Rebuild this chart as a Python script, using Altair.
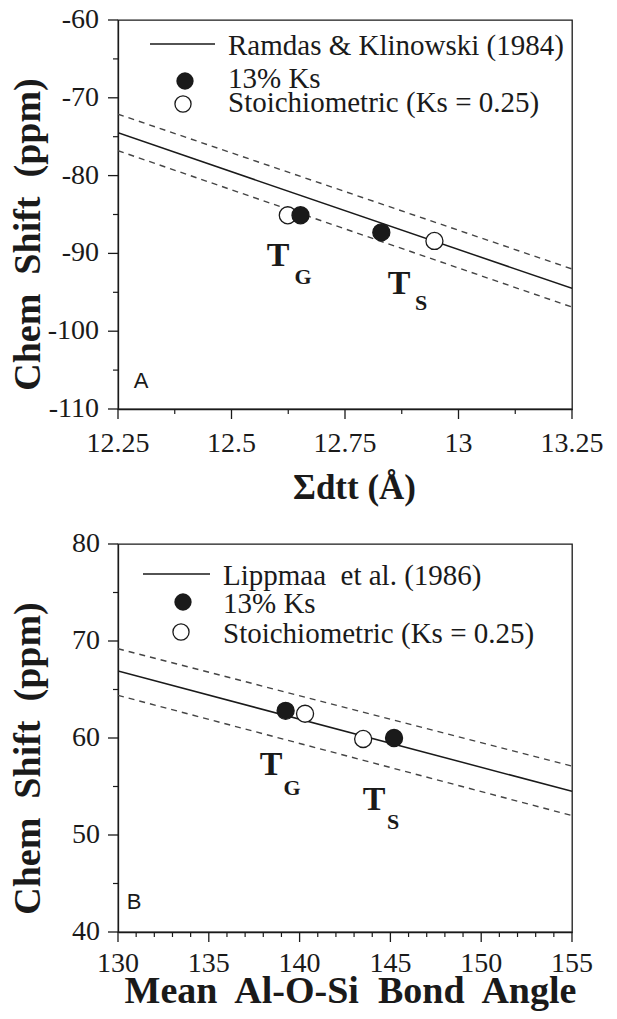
import altair as alt
import pandas as pd

# ---------------- Panel A data ----------------
A_X_ENDS = [12.25, 13.25]
A_FIT = [-74.5, -94.5]
A_UPPER = [-72.1, -92.0]
A_LOWER = [-76.8, -96.9]
A_KS13_X = [12.652, 12.83]
A_KS13_Y = [-85.1, -87.3]
A_STOI_X = [12.624, 12.947]
A_STOI_Y = [-85.1, -88.4]
A_X_DOMAIN = [12.25, 13.25]
A_Y_DOMAIN = [-110, -60]
A_X_TICKS = [12.25, 12.5, 12.75, 13.0, 13.25]
A_X_LABELS = ["12.25", "12.5", "12.75", "13", "13.25"]
A_X_MINOR = [12.375, 12.625, 12.875, 13.125]
A_Y_TICKS = [-110, -100, -90, -80, -70, -60]
A_Y_LABELS = ["-110", "-100", "-90", "-80", "-70", "-60"]
A_Y_MINOR = [-105, -95, -85, -75, -65]
A_LEGEND = ["Ramdas & Klinowski (1984)", "13% Ks", "Stoichiometric (Ks = 0.25)"]

# ---------------- Panel B data ----------------
B_X_ENDS = [130, 155]
B_FIT = [66.9, 54.5]
B_UPPER = [69.2, 57.1]
B_LOWER = [64.4, 52.0]
B_KS13_X = [139.23, 145.2]
B_KS13_Y = [62.8, 60.0]
B_STOI_X = [140.3, 143.5]
B_STOI_Y = [62.5, 59.9]
B_X_DOMAIN = [130, 155]
B_Y_DOMAIN = [40, 80]
B_X_TICKS = [130, 135, 140, 145, 150, 155]
B_X_LABELS = ["130", "135", "140", "145", "150", "155"]
B_X_MINOR = [131, 132, 133, 134, 136, 137, 138, 139, 141, 142, 143, 144,
             146, 147, 148, 149, 151, 152, 153, 154]
B_Y_TICKS = [40, 50, 60, 70, 80]
B_Y_LABELS = ["40", "50", "60", "70", "80"]
B_Y_MINOR = [45, 55, 65, 75]
B_LEGEND = ["Lippmaa\u00a0 et al. (1986)", "13% Ks", "Stoichiometric (Ks = 0.25)"]

SERIF = "Liberation Serif"
SANS = "Liberation Sans"
INK = "#1a1a1a"
W = 454


def one():
    return alt.Data(values=[{"k": 0}])


def txt(x, y, s, size, bold=False, font=SERIF, align="left"):
    return alt.Chart(one()).mark_text(
        font=font, fontSize=size, fontWeight="bold" if bold else "normal",
        align=align, baseline="middle", color=INK
    ).encode(x=alt.value(x), y=alt.value(y), text=alt.value(s))


def panel(x_ends, fit, upper, lower, k13x, k13y, stx, sty, xdom, ydom,
          xticks, xlabels, xminor, yticks, ylabels, yminor,
          xtitle, xtitle_x, xtitle_y, xtitle_size, xlab_dy, ylab_dx,
          legend, leg, letter, letter_pos, tg, ts, height):
    xs = alt.Scale(domain=xdom, nice=False, zero=False)
    ys = alt.Scale(domain=ydom, nice=False, zero=False)
    common = dict(
        labels=False, ticks=False, grid=False,
        titleFont=SERIF, titleFontWeight="bold", titleColor=INK,
        domainColor=INK, domainWidth=1.3,
    )
    xaxis = alt.Axis(
        values=xticks, title=xtitle,
        titleX=xtitle_x, titleY=xtitle_y, titleBaseline="alphabetic", titleAlign="center",
        titleFontSize=xtitle_size, **common,
    )
    yaxis = alt.Axis(
        values=yticks, title="Chem\u00a0 Shift\u00a0 (ppm)",
        titleX=-90, titleY=214, titleAngle=-90, titleAlign="center", titleBaseline="middle",
        titleFontSize=38, **common,
    )
    X = alt.X("x:Q", scale=xs, axis=xaxis)
    Y = alt.Y("y:Q", scale=ys, axis=yaxis)
    lines = pd.DataFrame({
        "x": x_ends * 3,
        "y": fit + upper + lower,
        "kind": ["fit"] * 2 + ["upper"] * 2 + ["lower"] * 2,
    })
    base_line = alt.Chart(lines[lines.kind == "fit"]).mark_line(
        color=INK, strokeWidth=1.5, clip=True
    ).encode(x=X, y=Y)
    dashed = alt.Chart(lines[lines.kind != "fit"]).mark_line(
        color="#444444", strokeWidth=1.4, strokeDash=[6, 5], clip=True
    ).encode(x=X, y=Y, detail="kind:N")

    pts = pd.DataFrame({
        "x": stx + k13x,
        "y": sty + k13y,
        "grp": ["stoi"] * len(stx) + ["ks13"] * len(k13x),
    })
    points = alt.Chart(pts).mark_point(shape="circle", size=290, strokeWidth=1.3, opacity=1).encode(
        x=X,
        y=Y,
        fill=alt.Fill("grp:N", scale=alt.Scale(domain=["stoi", "ks13"], range=["white", INK]), legend=None),
        stroke=alt.value(INK),
    )

    # ticks and tick labels, placed through the same scales
    xmaj = alt.Chart(pd.DataFrame({"x": xticks, "lab": xlabels}))
    ymaj = alt.Chart(pd.DataFrame({"y": yticks, "lab": ylabels}))
    tick_layers = [
        xmaj.mark_rule(color=INK, strokeWidth=1.3).encode(
            x=X, y=alt.value(height), y2=alt.value(height + 10)),
        alt.Chart(pd.DataFrame({"x": xminor})).mark_rule(color=INK, strokeWidth=1.2).encode(
            x=X, y=alt.value(height), y2=alt.value(height + 5)),
        ymaj.mark_rule(color=INK, strokeWidth=1.3).encode(
            y=Y, x=alt.value(-10), x2=alt.value(0)),
        alt.Chart(pd.DataFrame({"y": yminor})).mark_rule(color=INK, strokeWidth=1.2).encode(
            y=Y, x=alt.value(-5), x2=alt.value(0)),
        xmaj.mark_text(font=SERIF, fontSize=28, color=INK, align="center", baseline="middle").encode(
            x=X, y=alt.value(height + xlab_dy), text="lab:N"),
        ymaj.mark_text(font=SERIF, fontSize=28, color=INK, align="right", baseline="middle").encode(
            y=Y, x=alt.value(ylab_dx), text="lab:N"),
    ]

    (lx1, lx2, ly, tx, ty0), (c1x, c1y, ty1), (c2x, c2y, ty2) = leg
    legend_layers = [
        alt.Chart(one()).mark_rule(color=INK, strokeWidth=1.5).encode(
            x=alt.value(lx1), x2=alt.value(lx2), y=alt.value(ly)),
        txt(tx, ty0, legend[0], 29),
        alt.Chart(one()).mark_point(shape="circle", size=300, filled=True, color=INK, opacity=1).encode(
            x=alt.value(c1x), y=alt.value(c1y)),
        txt(tx, ty1, legend[1], 29),
        alt.Chart(one()).mark_point(shape="circle", size=260, fill="white", stroke=INK, strokeWidth=1.3, opacity=1).encode(
            x=alt.value(c2x), y=alt.value(c2y)),
        txt(tx, ty2, legend[2], 29),
    ]
    ann = [
        txt(tg[0][0], tg[0][1], "T", 34, bold=True, align="center"),
        txt(tg[1][0], tg[1][1], "G", 22, bold=True, align="center"),
        txt(ts[0][0], ts[0][1], "T", 34, bold=True, align="center"),
        txt(ts[1][0], ts[1][1], "S", 22, bold=True, align="center"),
        txt(letter_pos[0], letter_pos[1], letter, 22, font=SANS, align="center"),
    ]
    return alt.layer(base_line, dashed, points, *tick_layers,
                     *legend_layers, *ann).properties(width=W, height=height)


chartA = panel(
    A_X_ENDS, A_FIT, A_UPPER, A_LOWER, A_KS13_X, A_KS13_Y, A_STOI_X, A_STOI_Y,
    A_X_DOMAIN, A_Y_DOMAIN, A_X_TICKS, A_X_LABELS, A_X_MINOR, A_Y_TICKS, A_Y_LABELS, A_Y_MINOR,
    "\u03a3dtt (\u00c5)", 236, 89, 35, 35, -19,
    A_LEGEND, ((32, 97, 24, 110, 26), (67, 61, 59), (65, 84, 83)),
    "A", (23, 361), ((160, 236), (185, 257)), ((281, 264), (303, 283)), 389,
)
chartB = panel(
    B_X_ENDS, B_FIT, B_UPPER, B_LOWER, B_KS13_X, B_KS13_Y, B_STOI_X, B_STOI_Y,
    B_X_DOMAIN, B_Y_DOMAIN, B_X_TICKS, B_X_LABELS, B_X_MINOR, B_Y_TICKS, B_Y_LABELS, B_Y_MINOR,
    "Mean\u00a0 Al-O-Si\u00a0 Bond\u00a0 Angle", 232, 70, 38, 32, -18,
    B_LEGEND, ((25, 92, 30, 105, 32), (65, 58, 60), (63, 88, 90)),
    "B", (16, 358), ((153, 221), (174, 244)), ((256, 256), (275, 278)), 388,
)

chart = alt.vconcat(chartA, chartB, spacing=135, bounds="flush").properties(
    padding={"top": -3, "left": 0, "right": 0, "bottom": 0},
    background="white",
).configure_view(
    stroke=INK, strokeWidth=1.3
)

chart.save("out.html", embed_options={"renderer": "svg", "actions": False})
